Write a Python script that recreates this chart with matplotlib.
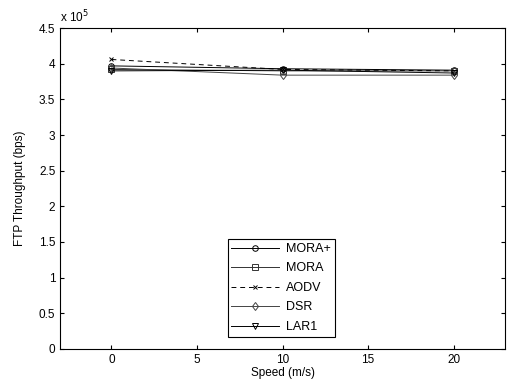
import numpy as np
from matplotlib import pyplot as plt

plt.rcParams['font.family'] = ['Liberation Sans', 'DejaVu Sans']

speed = [0, 10, 20]
# throughput in units of 1e5 bps
mora_plus = [3.97, 3.93, 3.91]
mora = [3.92, 3.90, 3.90]
aodv = [4.06, 3.92, 3.90]
dsr = [3.94, 3.84, 3.84]
lar1 = [3.90, 3.91, 3.87]

fig = plt.figure(figsize=(5.1, 3.85), dpi=100)
ax = fig.add_axes([0.118, 0.094, 0.872, 0.833])

ax.plot(speed, mora_plus, '-', color='black', marker='o', mfc='none', ms=4, mew=0.7, lw=0.7, label='MORA+')
ax.plot(speed, mora, '-', color='#333333', marker='s', mfc='none', ms=4, mew=0.7, lw=0.7, label='MORA')
ax.plot(speed, aodv, '--', color='black', marker='x', ms=3.5, mew=0.7, lw=0.7, dashes=(5, 4), label='AODV')
ax.plot(speed, dsr, '-', color='#444444', marker='d', mfc='none', ms=4.5, mew=0.7, lw=0.7, label='DSR')
ax.plot(speed, lar1, '-', color='black', marker='v', mfc='none', ms=4, mew=0.7, lw=0.7, label='LAR1')

ax.set_xlim(-3, 23)
ax.set_ylim(0, 4.5)
ax.set_xticks([0, 5, 10, 15, 20])
ax.set_yticks(np.arange(0, 4.51, 0.5))
ax.set_yticklabels(['0', '0.5', '1', '1.5', '2', '2.5', '3', '3.5', '4', '4.5'])
ax.tick_params(direction='in', labelsize=8.5, length=3, top=True, right=True)
ax.set_xlabel('Speed (m/s)', fontsize=8.5, labelpad=1)
ax.set_ylabel('FTP Throughput (bps)', fontsize=8.5, labelpad=9)
ax.text(0.0, 1.01, 'x 10$^5$', transform=ax.transAxes, fontsize=8.5, ha='left', va='bottom')

leg = ax.legend(loc='lower center', bbox_to_anchor=(0.497, 0.03), fontsize=9, fancybox=False,
                edgecolor='black', framealpha=1, handlelength=3.8, handletextpad=0.6,
                borderpad=0.3, labelspacing=0.6, borderaxespad=0.2)
leg.get_frame().set_linewidth(0.8)

fig.savefig('out.png', dpi=100)
